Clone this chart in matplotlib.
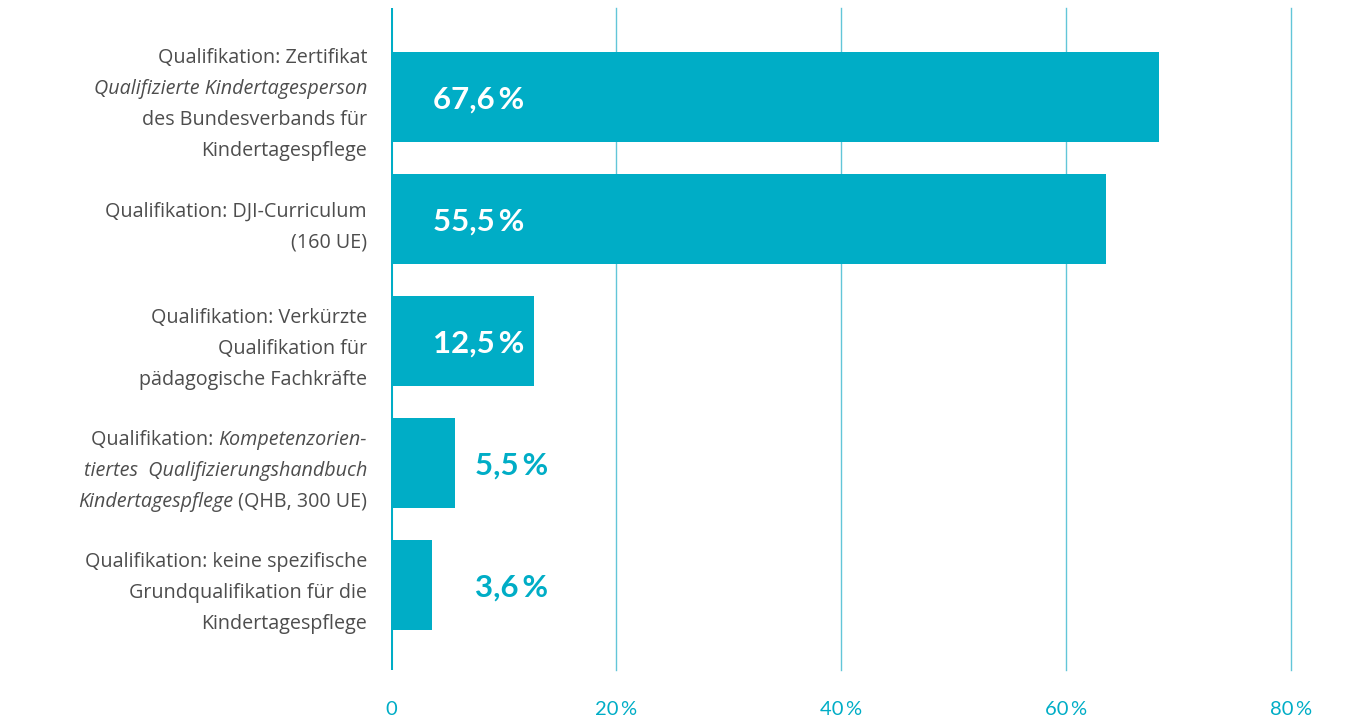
import matplotlib.pyplot as plt
from matplotlib.transforms import offset_copy

# bar lengths as drawn in the chart (percent) and the printed value labels
values = [68.3, 63.6, 12.7, 5.7, 3.6]
value_labels = ["67,6\u2009%", "55,5\u2009%", "12,5\u2009%", "5,5\u2009%", "3,6\u2009%"]

# category labels: list of lines, each line a list of (text, italic) pieces
categories = [
    [[("Qualifikation: Zertifikat", False)],
     [("Qualifizierte Kindertagesperson", True)],
     [("des Bundesverbands für", False)],
     [("Kindertagespflege", False)]],
    [[("Qualifikation: DJI-Curriculum", False)],
     [("(160 UE)", False)]],
    [[("Qualifikation: Verkürzte", False)],
     [("Qualifikation für", False)],
     [("pädagogische Fachkräfte", False)]],
    [[("Qualifikation: ", False), ("Kompetenzorien-", True)],
     [("tiertes  Qualifizierungshandbuch", True)],
     [("Kindertagespflege", True), (" (QHB, 300 UE)", False)]],
    [[("Qualifikation: keine spezifische", False)],
     [("Grundqualifikation für die", False)],
     [("Kindertagespflege", False)]],
]

xticks = [0, 20, 40, 60, 80]
xtick_labels = ["0", "20\u2009%", "40\u2009%", "60\u2009%", "80\u2009%"]

teal = "#00adc6"
grid_col = "#62c6d8"
text_col = "#4d4d4d"

fig = plt.figure(figsize=(13.47, 7.26), dpi=100)
ax = fig.add_axes([0.2903, 0.0771, 0.6681, 0.9119])

ypos = list(range(len(values)))
ax.barh(ypos, values, height=0.738, color=teal, zorder=2)

ax.set_xlim(0, 80)
ax.set_ylim(4.70, -0.73)
for x in xticks[1:]:
    ax.axvline(x, color=grid_col, lw=1.0, zorder=1, clip_on=False)
ax.axvline(0, color=teal, lw=2.2, zorder=3)

for s in ax.spines.values():
    s.set_visible(False)
ax.set_yticks([])
ax.set_xticks(xticks)
ax.set_xticklabels(xtick_labels, fontsize=14.5, color=teal, family="Lato")
ax.tick_params(axis="x", length=0, pad=22)

# value labels
for y, v, lab in zip(ypos, values, value_labels):
    if v > 10:
        ax.text(3.7, y + 0.02, lab, color="white", fontsize=22.5, fontweight="bold",
                family="Lato", va="center", ha="left", zorder=4)
    else:
        ax.text(7.5, y + 0.02, lab, color=teal, fontsize=22.5, fontweight="bold",
                family="Lato", va="center", ha="left", zorder=4)

# category labels, right aligned, mixed italic
fig.canvas.draw()
renderer = fig.canvas.get_renderer()
line_h = 31  # pixels
x_right = 367 / 1347
for y, lines in zip(ypos, categories):
    n = len(lines)
    y_pix_center = ax.transData.transform((0, y))[1] - 8
    for i, pieces in enumerate(lines):
        y_pix = y_pix_center + ((n - 1) / 2 - i) * line_h
        yf = y_pix / fig.bbox.height
        offset = 0.0
        for txt, ital in reversed(pieces):
            t = fig.text(x_right, yf, txt, ha="right", va="center",
                         fontsize=14.2, color=text_col, family="Open Sans",
                         style="italic" if ital else "normal",
                         transform=offset_copy(fig.transFigure, fig=fig,
                                               x=-offset, y=0, units="dots"))
            w = t.get_window_extent(renderer).width
            offset += w

fig.savefig("out.png", dpi=100, facecolor="white")
